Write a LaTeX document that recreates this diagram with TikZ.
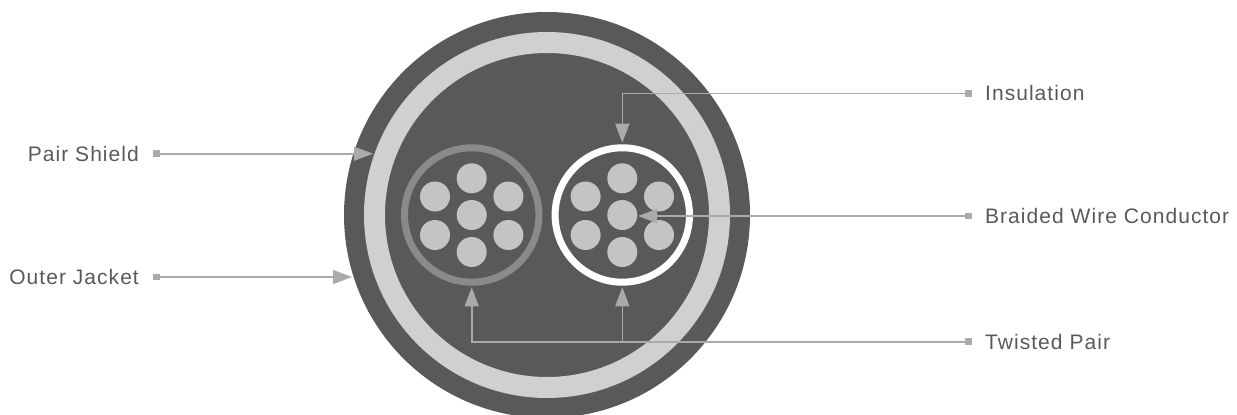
\documentclass[tikz,border=0pt]{standalone}
\usepackage{fontspec}
\setmainfont[LetterSpace=5]{Liberation Sans}
\usepackage{xcolor}
\usetikzlibrary{arrows.meta,positioning}
\definecolor{cablegray}{HTML}{595959}
\definecolor{shieldgray}{HTML}{D0D0D0}
\definecolor{wiregray}{HTML}{C4C4C4}
\definecolor{pairgray}{HTML}{8A8A8A}
\definecolor{leadgray}{HTML}{AAAAAA}

\begin{document}
\begin{tikzpicture}[
  x=1pt, y=-1pt,
  node distance=13pt and 13pt,
  every node/.style={font=\fontsize{21}{25}\selectfont, text=cablegray, inner sep=0pt},
  ring/.style={circle, draw, minimum size=#1},
  wire/.style={circle, fill=wiregray, minimum size=30pt},
  endsq/.style={rectangle, fill=leadgray, minimum size=6.5pt},
  lead/.style={draw=leadgray, line width=1.6pt},
  >={Triangle[length=19pt,width=14pt]}
]
\useasboundingbox (0,0) rectangle (1237,415);

\node[circle, fill=cablegray, minimum size=406pt] (jacket) at (547,215) {};
\node[ring=345pt, draw=shieldgray, line width=21pt] (shield) at (547,215) {};
\node[ring=134.4pt, draw=pairgray, line width=7pt] (pairl) at (471.7,215) {};
\node[ring=134.4pt, draw=white, line width=7pt] (pairr) at (622.3,215) {};

% wires of each pair
\foreach \x/\y/\n in {0/-36.7/t, 0/0/c, 0/37/b, -36.7/-18.5/tl, -36.7/20/bl, 36.7/-18.5/tr, 36.7/20/br}{
  \node[wire] (l\n) at (471.7+\x,215+\y) {};
  \node[wire] (r\n) at (622.3+\x,215+\y) {};
}

\node[endsq] (sqshield) at (156.5,153.7) {};
\node[endsq] (sqjacket) at (156.5,277) {};
\node[endsq] (sqins) at (968.5,93.3) {};
\node[endsq] (sqbraid) at (968.5,216) {};
\node[endsq] (sqtwist) at (968.5,341.7) {};

\node[left=14pt of sqshield] (tshield) {Pair Shield};
\node[left=14pt of sqjacket] (tjacket) {Outer Jacket};
\node[right=of sqins] (tins) {Insulation};
\node[right=of sqbraid] (tbraid) {Braided Wire Conductor};
\node[right=of sqtwist] (ttwist) {Twisted Pair};

\coordinate (tipshield) at (373,153.7);
\coordinate (tipjacket) at (352,277);
\coordinate (tipins) at (622.3,142.7);
\coordinate (tipbraid) at (638,216);
\coordinate (tiptwistl) at (471.7,287.3);
\coordinate (tiptwistr) at (622.3,287.3);

\draw[lead,->] (sqshield) -- (tipshield);
\draw[lead,->] (sqjacket) -- (tipjacket);
\draw[lead,->] (sqins) -| (tipins);
\draw[lead,->] (sqbraid) -- (tipbraid);
\draw[lead,->] (sqtwist) -| (tiptwistl);
\draw[lead,->] (tiptwistr |- sqtwist) -- (tiptwistr);
\end{tikzpicture}
\end{document}
